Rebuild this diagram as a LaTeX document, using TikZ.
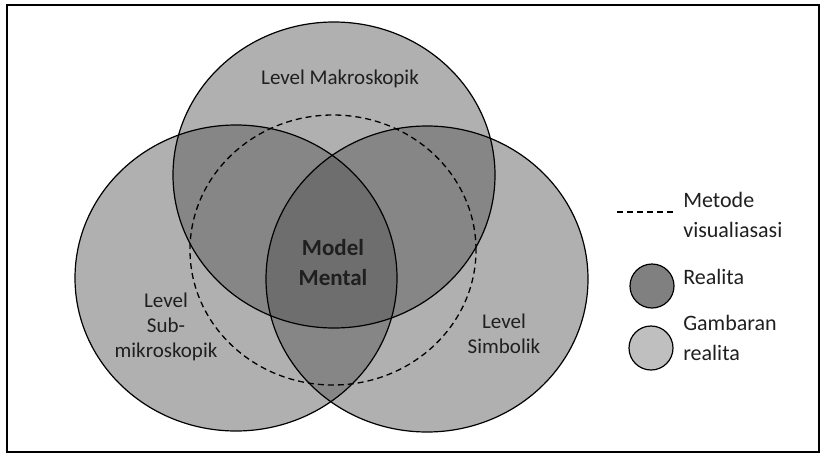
\documentclass[tikz,border=0pt]{standalone}
\usepackage{fontspec}
\setmainfont{Carlito}
\usepackage{xcolor}
\definecolor{lvlone}{gray}{0.69}
\definecolor{lvltwo}{gray}{0.525}
\definecolor{lvlthree}{gray}{0.43}
\definecolor{realfill}{gray}{0.5}
\definecolor{imagefill}{gray}{0.75}
\definecolor{ink}{gray}{0.12}
\usepackage{tikz}
\usetikzlibrary{positioning}

\begin{document}
\begin{tikzpicture}[x=1pt, y=-1pt, semithick]
    \tikzset{venn/.style={x radius=161pt, y radius=153pt},
             rim/.style={draw=black, line width=1.2pt},
             visdash/.style={line width=1.3pt, dash pattern=on 6pt off 4pt},
             lbl/.style={text=ink, font=\fontsize{21}{25}\selectfont, align=center, inner sep=0pt},
             leglbl/.style={text=ink, font=\fontsize{22}{30}\selectfont, align=left, inner sep=0pt},
             legcirc/.style={circle, draw=black, line width=1.2pt, minimum size=44pt, inner sep=0pt}}
    \useasboundingbox (0,0) rectangle (824,455);

    % Frame
    \draw[line width=1.5pt] (7,5) rectangle (819,452);

    % Circle centres
    \coordinate (makro) at (334,175);
    \coordinate (sub) at (236,278);
    \coordinate (simbol) at (427,279);
    \coordinate (visual) at (333,250);

    % Single areas
    \fill[lvlone] (makro) ellipse [venn];
    \fill[lvlone] (sub) ellipse [venn];
    \fill[lvlone] (simbol) ellipse [venn];

    % Overlaps of two
    \begin{scope}
        \clip (makro) ellipse [venn];
        \fill[lvltwo] (sub) ellipse [venn];
        \fill[lvltwo] (simbol) ellipse [venn];
    \end{scope}
    \begin{scope}
        \clip (sub) ellipse [venn];
        \fill[lvltwo] (simbol) ellipse [venn];
    \end{scope}

    % Overlap of all three
    \begin{scope}
        \clip (makro) ellipse [venn];
        \clip (sub) ellipse [venn];
        \fill[lvlthree] (simbol) ellipse [venn];
    \end{scope}

    % Outlines
    \draw[rim] (makro) ellipse [venn];
    \draw[rim] (sub) ellipse [venn];
    \draw[rim] (simbol) ellipse [venn];
    \draw[visdash] (visual) ellipse [x radius=143pt, y radius=135pt];

    % Labels
    \node[lbl] (makrolbl) at (340,79) {Level Makroskopik};
    \node[lbl] (sublbl) at (166,327) {Level\\Sub-\\mikroskopik};
    \node[lbl] (simbollbl) at (504,334) {Level\\Simbolik};
    \node[lbl, font=\bfseries\fontsize{23}{30}\selectfont] (mentallbl) at (333,263) {Model\\Mental};

    % Legend
    \coordinate (dashA) at (617,212);
    \coordinate (dashB) at (675,212);
    \draw[visdash] (dashA) -- (dashB);
    \node[leglbl, anchor=west] (metodelbl) at (683,215) {Metode\\visualiasasi};
    \node[legcirc, fill=realfill] (realcirc) at (652,286) {};
    \node[leglbl, anchor=west] (reallbl) at (683,277) {Realita};
    \node[legcirc, fill=imagefill] (imagecirc) at (651,348) {};
    \node[leglbl, anchor=west] (imagelbl) at (683,338) {Gambaran\\realita};
\end{tikzpicture}
\end{document}
